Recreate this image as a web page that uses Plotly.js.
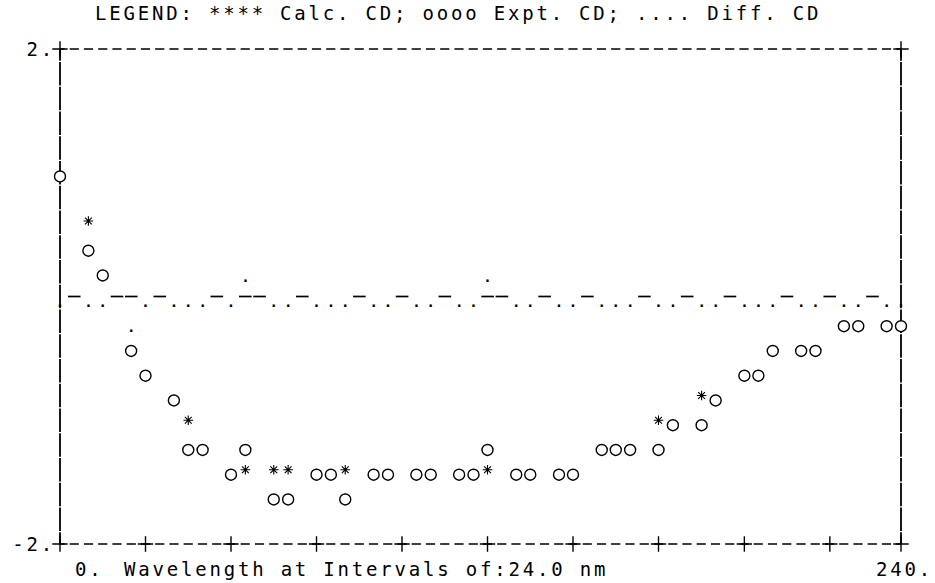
<!DOCTYPE html>
<html>
<head>
<meta charset="utf-8">
<script src="https://cdn.plot.ly/plotly-3.0.1.min.js"></script>
<style>
html, body { margin: 0; padding: 0; background: #fff; }
#chart { width: 935px; height: 583px; }
.gtitle, .annotation-text, .ytick text { letter-spacing: 2.8px; }
</style>
</head>
<body>
<div id="chart"></div>
<script>
// ---- data ----
const wavelength = [0, 8.1, 12.2, 20.3, 24.4, 32.5, 36.6, 40.7, 48.8, 52.9,
  61.0, 65.1, 73.2, 77.3, 81.4, 89.5, 93.6, 101.7, 105.8, 113.9,
  118.0, 122.0, 130.2, 134.2, 142.4, 146.4, 154.6, 158.6, 162.7, 170.8,
  174.9, 183.1, 187.1, 195.3, 199.3, 203.4, 211.5, 215.6, 223.7, 227.8,
  235.9, 240.0];

const exptCD = [0.97, 0.37, 0.17, -0.44, -0.64, -0.84, -1.24, -1.24, -1.44, -1.24,
  -1.64, -1.64, -1.44, -1.44, -1.64, -1.44, -1.44, -1.44, -1.44, -1.44,
  -1.44, -1.24, -1.44, -1.44, -1.44, -1.44, -1.24, -1.24, -1.24, -1.24,
  -1.04, -1.04, -0.84, -0.64, -0.64, -0.44, -0.44, -0.44, -0.24, -0.24,
  -0.24, -0.24];

const calcCD = [0.97, 0.61, 0.17, -0.44, -0.64, -0.84, -1.0, -1.24, -1.44, -1.4,
  -1.4, -1.4, -1.44, -1.44, -1.4, -1.44, -1.44, -1.44, -1.44, -1.44,
  -1.44, -1.4, -1.44, -1.44, -1.44, -1.44, -1.24, -1.24, -1.24, -1.0,
  -1.04, -0.8, -0.84, -0.64, -0.64, -0.44, -0.44, -0.44, -0.24, -0.24,
  -0.24, -0.24];

const diffCD = [0, 0, 0, -0.2, 0, 0, 0, 0, 0, 0.2,
  0, 0, 0, 0, 0, 0, 0, 0, 0, 0,
  0, 0.2, 0, 0, 0, 0, 0, 0, 0, 0,
  0, 0, 0, 0, 0, 0, 0, 0, 0, 0,
  0, 0];

const xRange = [0, 240];
const yRange = [-2, 2];
const xTickPos = [0, 24.4, 48.8, 73.2, 97.6, 122.0, 146.4, 170.8, 195.3, 219.7, 240.0];
const yTickVals = [2, -2];
const yTickText = ['2.', '-2.'];
const legendText = 'LEGEND: **** Calc. CD; oooo Expt. CD; .... Diff. CD';
const xStartText = '0.';
const xAxisText = 'Wavelength at Intervals of:24.0 nm';
const xEndText = '240.';

// ---- printer zero row: '-' where no point sits on the zero row ----
const COLS = 60;
const colStep = (xRange[1] - xRange[0]) / (COLS - 1);
const zeroX = [];
for (let c = 0; c < COLS; c++) {
  const x = xRange[0] + c * colStep;
  const taken = wavelength.some((w, i) => Math.abs(w - x) < colStep / 2 && Math.abs(diffCD[i]) < 0.1);
  if (!taken) zeroX.push(x);
}
const zeroY = zeroX.map(() => 0);

const plusX = xTickPos.concat([xRange[0], xRange[1]]);
const plusY = xTickPos.map(() => yRange[0]).concat([yRange[1], yRange[1]]);

const MONO = 'DejaVu Sans Mono, monospace';
const FS = 19;

const traces = [
  { x: zeroX, y: zeroY, mode: 'markers', hoverinfo: 'skip', cliponaxis: false,
    marker: { symbol: 'line-ew', size: 9, color: '#000', line: { color: '#000', width: 1.7 } } },
  { x: plusX, y: plusY, mode: 'markers', hoverinfo: 'skip', cliponaxis: false,
    marker: { symbol: 'cross-thin-open', size: 11, color: '#000', line: { color: '#000', width: 1.4 } } },
  { name: 'Diff. CD', x: wavelength, y: diffCD, mode: 'text', text: wavelength.map(() => '.'),
    textposition: 'bottom center', cliponaxis: false,
    textfont: { family: MONO, size: 14, color: '#000', weight: 'bold' } },
  { name: 'Calc. CD', x: wavelength, y: calcCD, mode: 'markers', cliponaxis: false,
    marker: { symbol: 'asterisk-open', size: 8, color: '#000', line: { color: '#000', width: 1.1 } } },
  { name: 'Expt. CD', x: wavelength, y: exptCD, mode: 'markers', cliponaxis: false,
    marker: { symbol: 'circle', size: 11, color: '#fff', line: { color: '#000', width: 1.4 } } }
];

const layout = {
  width: 935, height: 583,
  margin: { l: 60, r: 34, t: 49, b: 39 },
  paper_bgcolor: '#fff', plot_bgcolor: '#fff',
  showlegend: false,
  font: { family: MONO, size: FS, color: '#000' },
  title: { text: legendText, x: 95 / 935, xanchor: 'left', xref: 'container',
           y: 1 - 13 / 583, yanchor: 'middle', yref: 'container',
           font: { family: MONO, size: FS, color: '#000' } },
  xaxis: { range: xRange, showgrid: false, zeroline: false, showline: false,
           showticklabels: false, ticks: '', fixedrange: true },
  yaxis: { range: yRange, showgrid: false, zeroline: false, showline: false,
           tickvals: yTickVals, ticktext: yTickText, ticks: '', ticklabelstandoff: 4,
           tickfont: { family: MONO, size: FS, color: '#000' }, fixedrange: true },
  shapes: [
    { type: 'line', xref: 'paper', yref: 'paper', x0: 0, x1: 1, y0: 1, y1: 1, layer: 'below',
      line: { color: '#000', width: 1.6, dash: '4.6px,5.05px,4.6px,0px' } },
    { type: 'line', xref: 'paper', yref: 'paper', x0: 0, x1: 1, y0: 0, y1: 0, layer: 'below',
      line: { color: '#000', width: 1.6, dash: '4.6px,5.05px,4.6px,0px' } },
    { type: 'line', xref: 'paper', yref: 'paper', x0: 0, x1: 0, y0: 1, y1: 0, layer: 'below',
      line: { color: '#000', width: 1.8, dash: '11.7px,1.35px,11.7px,0px' } },
    { type: 'line', xref: 'paper', yref: 'paper', x0: 1, x1: 1, y0: 1, y1: 0, layer: 'below',
      line: { color: '#000', width: 1.8, dash: '11.7px,1.35px,11.7px,0px' } }
  ],
  annotations: [
    { text: xStartText, xref: 'paper', yref: 'paper', x: 0, y: -0.05, xanchor: 'left', yanchor: 'middle',
      xshift: 13, showarrow: false, font: { family: MONO, size: FS, color: '#000' } },
    { text: xAxisText, xref: 'paper', yref: 'paper', x: 0, y: -0.05, xanchor: 'left', yanchor: 'middle',
      xshift: 62, showarrow: false, font: { family: MONO, size: FS, color: '#000' } },
    { text: xEndText, xref: 'paper', yref: 'paper', x: 1, y: -0.05, xanchor: 'left', yanchor: 'middle',
      xshift: -27, showarrow: false, font: { family: MONO, size: FS, color: '#000' } }
  ]
};

Plotly.newPlot('chart', traces, layout, { staticPlot: true, displayModeBar: false });
</script>
</body>
</html>
